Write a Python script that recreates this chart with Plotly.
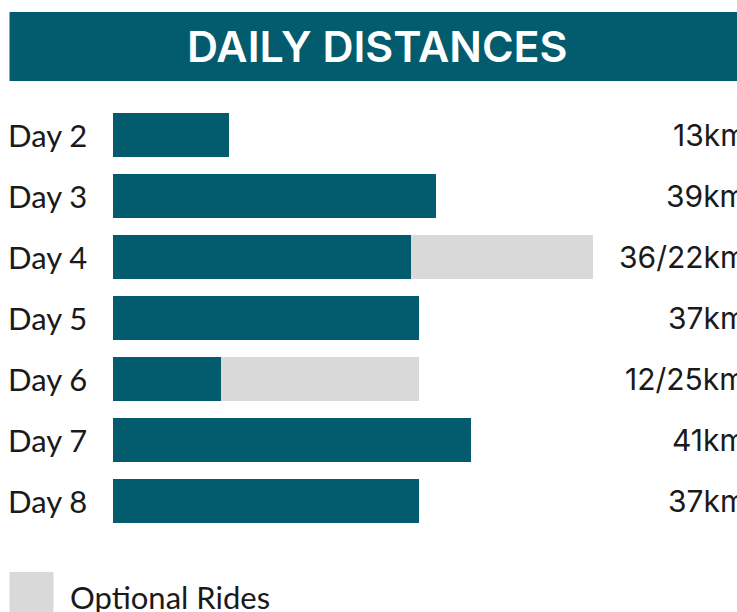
import plotly.graph_objects as go

days = ["Day 2", "Day 3", "Day 4", "Day 5", "Day 6", "Day 7", "Day 8"]
main_km = [14, 39, 36, 37, 13, 43.3, 37]
optional_km = [0, 0, 22, 0, 24, 0, 0]
value_labels = ["13km", "39km", "36/22km", "37km", "12/25km", "41km", "37km"]
title_text = "DAILY DISTANCES"
legend_text = "Optional Rides"

TEAL = "#035b6e"
GREY = "#d9d9d9"
W, H = 737, 612

fig = go.Figure()
fig.add_trace(go.Bar(y=days, x=main_km, orientation="h", marker=dict(color=TEAL, line=dict(width=0)),
                     name="Main", showlegend=False, hoverinfo="skip"))
fig.add_trace(go.Bar(y=days, x=optional_km, orientation="h", marker=dict(color=GREY, line=dict(width=0)),
                     name=legend_text, showlegend=False, hoverinfo="skip"))

annotations = []
for d, lab in zip(days, value_labels):
    annotations.append(dict(x=748 / W, xref="paper", y=d, yref="y", text=lab, showarrow=False,
                            xanchor="right", yanchor="middle",
                            font=dict(family="Inter", size=30, color="#1a1a1a")))
    annotations.append(dict(x=6 / W, xref="paper", y=d, yref="y", text=d, showarrow=False,
                            xanchor="left", yanchor="middle",
                            font=dict(family="Lato", size=31, color="#1a1a1a")))

annotations.append(dict(x=377 / W, xref="paper", y=1 - 46 / H, yref="paper", text=title_text,
                        showarrow=False, xanchor="center", yanchor="middle",
                        font=dict(family="Inter", size=43, color="white", weight=600)))
annotations.append(dict(x=68 / W, xref="paper", y=1 - 597 / H, yref="paper", text=legend_text,
                        showarrow=False, xanchor="left", yanchor="middle",
                        font=dict(family="Lato", size=31, color="#1a1a1a")))

shapes = [
    dict(type="rect", xref="paper", yref="paper", x0=9.5 / W, x1=1.01, y0=1 - 81 / H, y1=1 - 12 / H,
         fillcolor=TEAL, line=dict(width=0), layer="below"),
    dict(type="rect", xref="paper", yref="paper", x0=9.5 / W, x1=53.5 / W, y0=-0.05, y1=1 - 572 / H,
         fillcolor=GREY, line=dict(width=0), layer="below"),
]

fig.update_layout(
    width=W, height=H,
    margin=dict(l=0, r=0, t=0, b=0),
    paper_bgcolor="white", plot_bgcolor="white",
    barmode="stack", bargap=0.279,
    showlegend=False,
    hovermode=False,
    xaxis=dict(domain=[113 / W, 1], range=[0, 75.45], visible=False, fixedrange=True),
    yaxis=dict(domain=[1 - 531.3 / H, 1 - 104.5 / H], categoryorder="array", categoryarray=days,
               range=[6.5, -0.5], visible=False, fixedrange=True),
    annotations=annotations,
    shapes=shapes,
)

fig.write_html("out.html", config={"displayModeBar": False},
               post_script="document.body.style.margin='0';document.body.style.overflow='hidden';")
